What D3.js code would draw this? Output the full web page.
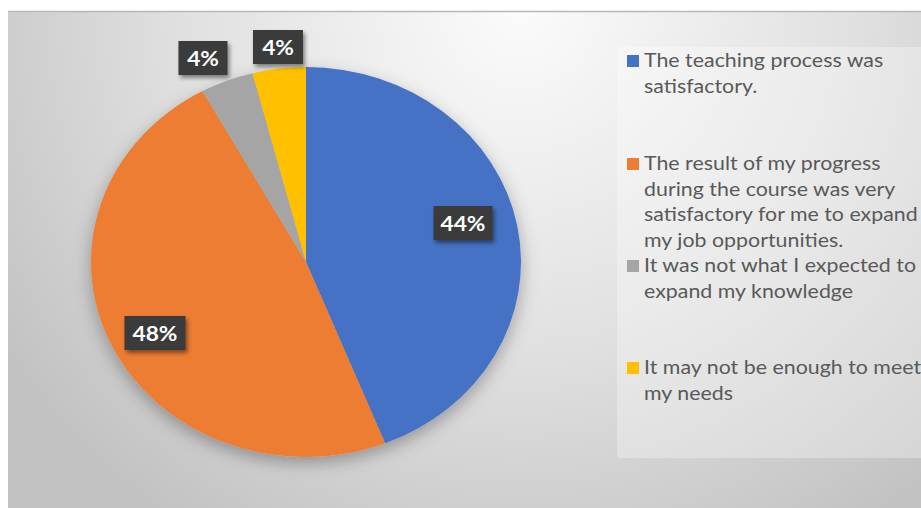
<!DOCTYPE html>
<html>
<head>
<meta charset="utf-8">
<script src="https://cdn.jsdelivr.net/npm/d3@7"></script>
<style>
  body { margin: 0; background: #fff; }
  svg { display: block; }
</style>
</head>
<body>
<svg width="921" height="508"></svg>
<script>
var categories = [
  "The teaching process was satisfactory.",
  "The result of my progress during the course was very satisfactory for me to expand my job opportunities.",
  "It was not what I expected to expand my knowledge",
  "It may not be enough to meet my needs"
];
var values = [44, 48, 4, 4];
var colors = ["#4472c4", "#ed7d31", "#a5a5a5", "#ffc000"];
var legendLines = [
  ["The teaching process was", "satisfactory."],
  ["The result of my progress", "during the course was very", "satisfactory for me to expand", "my job opportunities."],
  ["It was not what I expected to", "expand my knowledge"],
  ["It may not be enough to meet", "my needs"]
];
var legendY = [67, 170, 272, 374];

var svg = d3.select("svg"),
    width = +svg.attr("width"),
    height = +svg.attr("height");

var defs = svg.append("defs");
var bg = defs.append("radialGradient")
    .attr("id", "bg")
    .attr("gradientUnits", "userSpaceOnUse")
    .attr("cx", 520).attr("cy", 10).attr("r", 620);
bg.append("stop").attr("offset", "0%").attr("stop-color", "#fbfbfb");
bg.append("stop").attr("offset", "55%").attr("stop-color", "#e0e0e0");
bg.append("stop").attr("offset", "100%").attr("stop-color", "#c2c2c2");

var shadow = defs.append("filter").attr("id", "shadow")
    .attr("x", "-20%").attr("y", "-20%").attr("width", "140%").attr("height", "150%");
shadow.append("feDropShadow")
    .attr("dx", 0).attr("dy", 6).attr("stdDeviation", 8)
    .attr("flood-color", "#000").attr("flood-opacity", 0.3);

var lblShadow = defs.append("filter").attr("id", "lblshadow")
    .attr("x", "-30%").attr("y", "-30%").attr("width", "160%").attr("height", "180%");
lblShadow.append("feDropShadow")
    .attr("dx", 2).attr("dy", 3).attr("stdDeviation", 2)
    .attr("flood-color", "#000").attr("flood-opacity", 0.45);

// chart area
svg.append("rect")
    .attr("x", 8).attr("y", 11)
    .attr("width", width - 8).attr("height", height - 11)
    .attr("fill", "url(#bg)");
svg.append("line")
    .attr("x1", 8).attr("x2", width)
    .attr("y1", 11.5).attr("y2", 11.5)
    .attr("stroke", "#b8b8b8").attr("stroke-width", 1.5);

// pie (slightly stretched horizontally, as in the picture)
var cx = 306, cy = 262, ry = 195, rx = 215;
var pie = d3.pie().sort(null).value(function(d) { return d; });
var arc = d3.arc().innerRadius(0).outerRadius(ry);
var arcs = pie(values);

var pieG = svg.append("g")
    .attr("transform", "translate(" + cx + "," + cy + ") scale(" + (rx / ry) + ",1)")
    .attr("filter", "url(#shadow)");

pieG.selectAll("path")
    .data(arcs)
    .enter().append("path")
    .attr("d", arc)
    .attr("fill", function(d, i) { return colors[i]; });

// data labels
var labelPos = [[463, 223], [155, 333], [203, 58], [278, 47]];
var labelW = [59, 61, 49, 50];

var labels = svg.append("g").selectAll("g")
    .data(arcs)
    .enter().append("g")
    .attr("transform", function(d, i) { return "translate(" + labelPos[i][0] + "," + labelPos[i][1] + ")"; });

labels.append("rect")
    .attr("x", function(d, i) { return -labelW[i] / 2; })
    .attr("y", -17)
    .attr("width", function(d, i) { return labelW[i]; })
    .attr("height", 34)
    .attr("fill", "#3a3a3a")
    .attr("filter", "url(#lblshadow)");

labels.append("text")
    .attr("text-anchor", "middle")
    .attr("dy", "0.36em")
    .attr("transform", "scale(1.08,1)")
    .attr("fill", "#fff")
    .attr("font-family", "Lato, 'Open Sans', sans-serif")
    .attr("font-weight", "bold")
    .attr("font-size", "21px")
    .text(function(d) { return d.data + "%"; });

// legend
svg.append("rect")
    .attr("x", 617).attr("y", 47)
    .attr("width", width - 617).attr("height", 411)
    .attr("fill", "#ffffff").attr("fill-opacity", 0.3);

var legend = svg.append("g").selectAll("g")
    .data(categories)
    .enter().append("g");

legend.append("rect")
    .attr("x", 627)
    .attr("y", function(d, i) { return legendY[i] - 12; })
    .attr("width", 12).attr("height", 12)
    .attr("fill", function(d, i) { return colors[i]; });

legend.append("text")
    .attr("transform", function(d, i) { return "translate(644," + legendY[i] + ") scale(1.125,1)"; })
    .attr("fill", "#595959")
    .attr("font-family", "Lato, 'Open Sans', sans-serif")
    .attr("font-size", "19px")
    .selectAll("tspan")
    .data(function(d, i) { return legendLines[i]; })
    .enter().append("tspan")
    .attr("x", 0)
    .attr("dy", function(d, j) { return j === 0 ? 0 : 25.6; })
    .text(function(d) { return d; });
</script>
</body>
</html>
